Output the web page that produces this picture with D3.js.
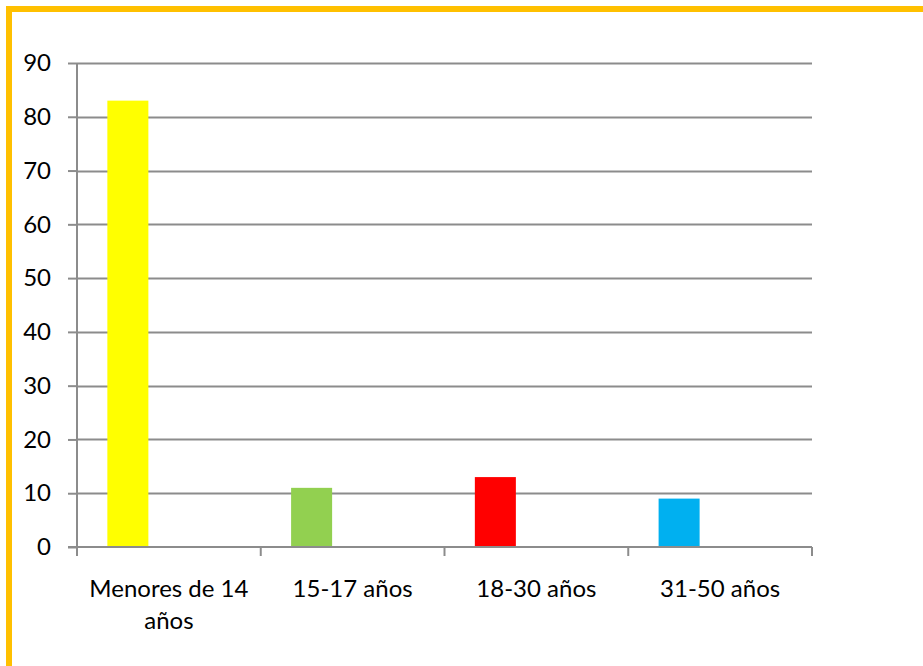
<!DOCTYPE html>
<html>
<head>
<meta charset="utf-8">
<script src="https://cdn.jsdelivr.net/npm/d3@7"></script>
<style>
  body { margin: 0; background: #fff; }
  svg { display: block; font-family: Lato, "Open Sans", sans-serif; }
</style>
</head>
<body>
<div id="chart"></div>
<script>
const width = 923;
const height = 666;

const categories = ["Menores de 14 años", "15-17 años", "18-30 años", "31-50 años"];
const values = [83, 11, 13, 9];
const barColors = ["#FFFF00", "#92D050", "#FF0000", "#00B0F0"];
const yTicks = [0, 10, 20, 30, 40, 50, 60, 70, 80, 90];
// the source chart has 3 series slots per category, only the first is used
const seriesSlots = ["s1", "s2", "s3"];

const plot = { left: 77, right: 812, top: 63, bottom: 547 };

const svg = d3.select("#chart")
    .append("svg")
    .attr("width", width)
    .attr("height", height);

// outer orange frame (cut off at right and bottom)
svg.append("rect")
    .attr("x", 9)
    .attr("y", 9)
    .attr("width", width + 20)
    .attr("height", height + 20)
    .attr("fill", "none")
    .attr("stroke", "#FFC000")
    .attr("stroke-width", 6);

const x = d3.scaleBand()
    .domain(categories)
    .range([plot.left, plot.right]);

const xInner = d3.scaleBand()
    .domain(seriesSlots)
    .range([0, x.bandwidth()])
    .paddingOuter(0.74);

const y = d3.scaleLinear()
    .domain([0, 90])
    .range([plot.bottom, plot.top]);

// gridlines
svg.append("g")
    .selectAll("line")
    .data(yTicks.filter(d => d > 0))
    .enter()
    .append("line")
    .attr("x1", plot.left)
    .attr("x2", plot.right)
    .attr("y1", d => Math.round(y(d)) + 0.5)
    .attr("y2", d => Math.round(y(d)) + 0.5)
    .attr("stroke", "#8C8C8C")
    .attr("stroke-width", 2);

// bars
svg.append("g")
    .selectAll("rect")
    .data(values)
    .enter()
    .append("rect")
    .attr("x", (d, i) => x(categories[i]) + xInner("s1"))
    .attr("y", d => y(d))
    .attr("width", xInner.bandwidth())
    .attr("height", d => y(0) - y(d))
    .attr("fill", (d, i) => barColors[i]);

// y axis
const yAxis = svg.append("g")
    .attr("transform", `translate(${plot.left},0)`)
    .call(d3.axisLeft(y).tickValues(yTicks).tickSize(9).tickPadding(17));
yAxis.select(".domain").attr("stroke", "#8C8C8C").attr("stroke-width", 2).attr("d", `M0,${plot.top}V${plot.bottom}`);
yAxis.selectAll(".tick line").attr("stroke", "#8C8C8C").attr("stroke-width", 2);
yAxis.selectAll("text")
    .attr("fill", "#000")
    .attr("font-size", "24px")
    .attr("font-family", "Lato, sans-serif");

// x axis baseline and ticks
svg.append("line")
    .attr("x1", plot.left - 9)
    .attr("x2", plot.right)
    .attr("y1", plot.bottom)
    .attr("y2", plot.bottom)
    .attr("stroke", "#8C8C8C")
    .attr("stroke-width", 2);

const boundaries = categories.map(c => x(c)).concat([x(categories[categories.length - 1]) + x.bandwidth()]);
svg.append("g")
    .selectAll("line")
    .data(boundaries)
    .enter()
    .append("line")
    .attr("x1", d => d)
    .attr("x2", d => d)
    .attr("y1", plot.bottom)
    .attr("y2", plot.bottom + 9)
    .attr("stroke", "#8C8C8C")
    .attr("stroke-width", 2);

// category labels (wrap first one like the original)
const labelLines = [["Menores de 14", "años"], ["15-17 años"], ["18-30 años"], ["31-50 años"]];
const labels = svg.append("g")
    .selectAll("text")
    .data(categories)
    .enter()
    .append("text")
    .attr("x", d => x(d) + x.bandwidth() / 2)
    .attr("y", 597)
    .attr("text-anchor", "middle")
    .attr("font-size", "24px")
    .attr("fill", "#000");

labels.each(function (d, i) {
    const t = d3.select(this);
    labelLines[i].forEach((line, j) => {
        t.append("tspan")
            .attr("x", x(d) + x.bandwidth() / 2)
            .attr("dy", j === 0 ? 0 : 32)
            .text(line);
    });
});
</script>
</body>
</html>
